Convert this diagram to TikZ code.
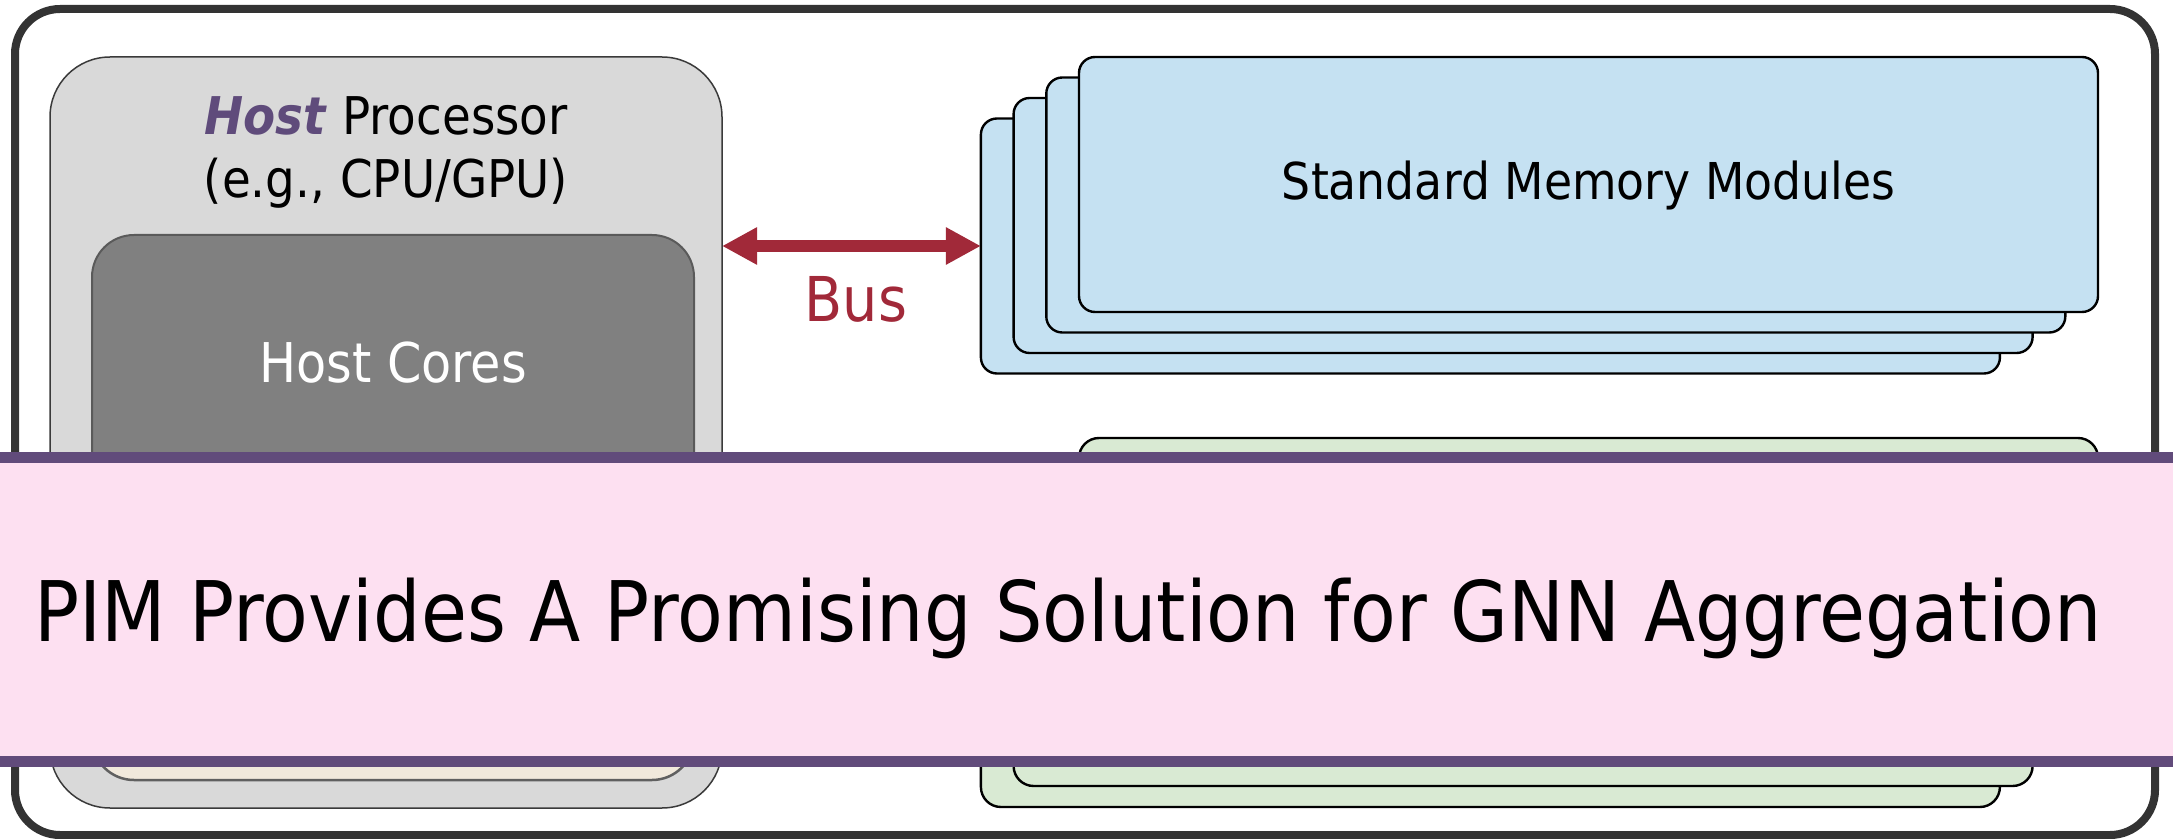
\documentclass[tikz,border=0pt]{standalone}
\usepackage{fontspec}
\setmainfont{DejaVu Sans}[FakeStretch=0.9]
\usetikzlibrary{arrows.meta}
\definecolor{framegray}{HTML}{333333}
\definecolor{hostfill}{HTML}{D9D9D9}
\definecolor{hostline}{HTML}{3A3A3A}
\definecolor{corefill}{HTML}{808080}
\definecolor{coreline}{HTML}{5A5A5A}
\definecolor{beigefill}{HTML}{F1E9DC}
\definecolor{beigeline}{HTML}{606060}
\definecolor{memblue}{HTML}{C5E1F2}
\definecolor{memgreen}{HTML}{D9EAD3}
\definecolor{busred}{HTML}{A12939}
\definecolor{hostpurple}{HTML}{5F4B7B}
\definecolor{bandpurple}{HTML}{614B7B}
\definecolor{bandpink}{HTML}{FDE0F1}
\begin{document}
\begin{tikzpicture}[x=0.5pt,y=-0.5pt,
  boxbase/.style={rectangle,inner sep=0pt,outer sep=0pt},
  hostbox/.style={boxbase,fill=hostfill,draw=hostline,line width=0.75pt,rounded corners=30pt,minimum width=336pt,minimum height=375.5pt},
  corebox/.style={boxbase,fill=corefill,draw=coreline,line width=1pt,rounded corners=21pt,minimum width=301pt,minimum height=182.5pt},
  beigebox/.style={boxbase,fill=beigefill,draw=beigeline,line width=1.25pt,rounded corners=21pt,minimum width=301pt,minimum height=85pt},
  bluebox/.style={boxbase,fill=memblue,draw=black,line width=1.2pt,rounded corners=8pt,minimum width=509.5pt,minimum height=127.5pt},
  greenbox/.style={boxbase,fill=memgreen,draw=black,line width=1.2pt,rounded corners=10pt,minimum width=509.5pt,minimum height=153pt},
  busarrow/.style={draw=busred,line width=6pt,{Triangle[length=17.5pt,width=17.5pt]}-{Triangle[length=17.5pt,width=17.5pt]}},
  band/.style={boxbase,fill=bandpink,draw=bandpurple,line width=5.5pt,minimum width=1110pt,minimum height=152pt},
  txt/.style={inner sep=0pt,anchor=base}
]
\useasboundingbox (0,0) rectangle (2173,839);
% outer frame
\draw[framegray,line width=4pt,rounded corners=22.5pt] (15,9) rectangle (2155,835);
% host processor
\node[hostbox] (host) at (386,432.5) {};
\node[corebox] (cores) at (393,417.5) {};
\node[beigebox] (beige) at (393,695) {};
\node[txt,font=\fontsize{26pt}{31pt}\selectfont] (hostt1) at (386,135) {\textcolor{hostpurple}{\textbf{\textit{Host}}} Processor};
\node[txt,font=\fontsize{26pt}{31pt}\selectfont] (hostt2) at (386,198) {(e.g., CPU/GPU)};
\node[txt,text=white,font=\fontsize{27.4pt}{32pt}\selectfont] (corest) at (393,383) {Host Cores};
% standard memory modules
\foreach \k in {3,2,1,0} {
  \node[bluebox] (mem\k) at (1588.5-32.7*\k,184.5+20.5*\k) {};
}
\node[txt,font=\fontsize{25.4pt}{30pt}\selectfont] (smm) at (1588.5,200) {Standard Memory Modules};
% PIM modules
\foreach \k in {3,2,1,0} {
  \node[greenbox] (pim\k) at (1588.5-32.7*\k,591+21*\k) {};
}
% bus
\draw[busarrow] (host.east |- mem3.west) -- (mem3.west);
\node[txt,text=busred,font=\fontsize{30.9pt}{36pt}\selectfont] (bus) at (856,322) {Bus};
% banner
\node[band] (banner) at (1086.5,609) {};
\node[txt,anchor=base west,font=\fontsize{41.8pt}{48pt}\selectfont] (title) at (34,641) {\scalebox{0.994}[1]{PIM Provides A Promising Solution for GNN Aggregation}};
\end{tikzpicture}
\end{document}
